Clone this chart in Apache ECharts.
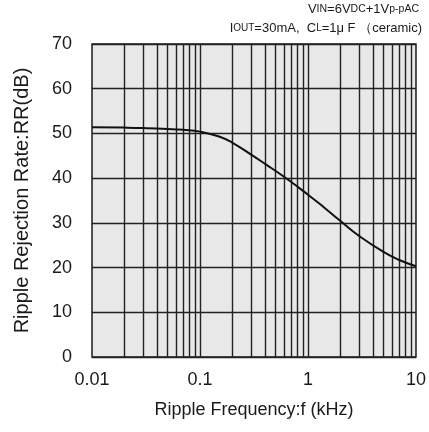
<!DOCTYPE html>
<html>
<head>
<meta charset="utf-8">
<script src="https://cdn.jsdelivr.net/npm/echarts@6/dist/echarts.min.js"></script>
<style>html,body{margin:0;padding:0;background:#fff;}#c{width:429px;height:432px;}</style>
</head>
<body>
<div id="c"></div>
<script>
// Data
var freqKHz = [0.01, 0.02, 0.03, 0.05, 0.07, 0.1, 0.15, 0.2, 0.3, 0.4, 0.6, 1, 1.4, 2, 3, 5, 7, 10];
var rippleRejection = [51.4, 51.3, 51.2, 51.0, 50.8, 50.4, 49.3, 47.9, 45.2, 43.2, 40.3, 36.3, 33.5, 30.4, 27.0, 23.5, 21.7, 20.3];
var xMinorGrid = [0.02,0.03,0.04,0.05,0.06,0.07,0.08,0.09,0.2,0.3,0.4,0.5,0.6,0.7,0.8,0.9,2,3,4,5,6,7,8,9];
var xMajorGrid = [0.1, 1];
var yTicks = [0, 10, 20, 30, 40, 50, 60, 70];

var chart = echarts.init(document.getElementById('c'));
var font = '"Liberation Sans", Arial, sans-serif';
var gridLines = xMinorGrid.concat(xMajorGrid).map(function (v) { return { xAxis: v }; });

chart.setOption({
  animation: false,
  backgroundColor: '#ffffff',
  grid: { left: 92, right: 7, top: 44, bottom: 75, show: true, backgroundColor: '#e8e8e8', borderColor: '#1a1a1a', borderWidth: 1.5 },
  xAxis: {
    type: 'log', logBase: 10, min: 0.01, max: 10,
    name: 'Ripple Frequency:f (kHz)', nameLocation: 'middle', nameGap: 44,
    nameTextStyle: { fontFamily: font, fontSize: 18, color: '#1a1a1a' },
    axisLine: { show: false }, axisTick: { show: false },
    axisLabel: { fontFamily: font, fontSize: 18, color: '#1a1a1a', margin: 14 },
    splitLine: { show: false }
  },
  yAxis: {
    type: 'value', min: yTicks[0], max: yTicks[yTicks.length - 1], interval: 10,
    name: 'Ripple Rejection Rate:RR(dB)', nameLocation: 'middle', nameGap: 60,
    nameTextStyle: { fontFamily: font, fontSize: 20, color: '#1a1a1a' },
    axisLine: { show: false }, axisTick: { show: false },
    axisLabel: { fontFamily: font, fontSize: 18, color: '#1a1a1a', margin: 20 },
    splitLine: { show: true, lineStyle: { color: '#222', width: 1.4 } }
  },
  series: [
    {
      type: 'line', data: [], silent: true, z: 1,
      markLine: {
        silent: true, symbol: 'none', label: { show: false }, animation: false, z: 1,
        lineStyle: { color: '#222', width: 1.4, type: 'solid' },
        data: gridLines
      }
    },
    {
      type: 'line',
      data: freqKHz.map(function (f, i) { return [f, rippleRejection[i]]; }),
      smooth: 0.5, showSymbol: false,
      lineStyle: { color: '#111', width: 2 },
      z: 10
    }
  ],
  graphic: [
    {
      type: 'text', right: 10, top: 3,
      style: {
        text: '{b|V}{s|IN}{b|=6V}{s|DC}{b|+1V}{s|p-pAC}',
        rich: {
          b: { fontFamily: font, fontSize: 13, fill: '#1a1a1a' },
          s: { fontFamily: font, fontSize: 10.5, fill: '#1a1a1a' }
        }
      }
    },
    {
      type: 'text', right: 7, top: 22,
      style: {
        text: '{b|I}{s|OUT}{b|=30mA,  C}{s|L}{b|=1\u03bc F （ceramic)}',
        rich: {
          b: { fontFamily: font, fontSize: 13, fill: '#1a1a1a' },
          s: { fontFamily: font, fontSize: 10, fill: '#1a1a1a' }
        }
      }
    }
  ]
});
</script>
</body>
</html>
